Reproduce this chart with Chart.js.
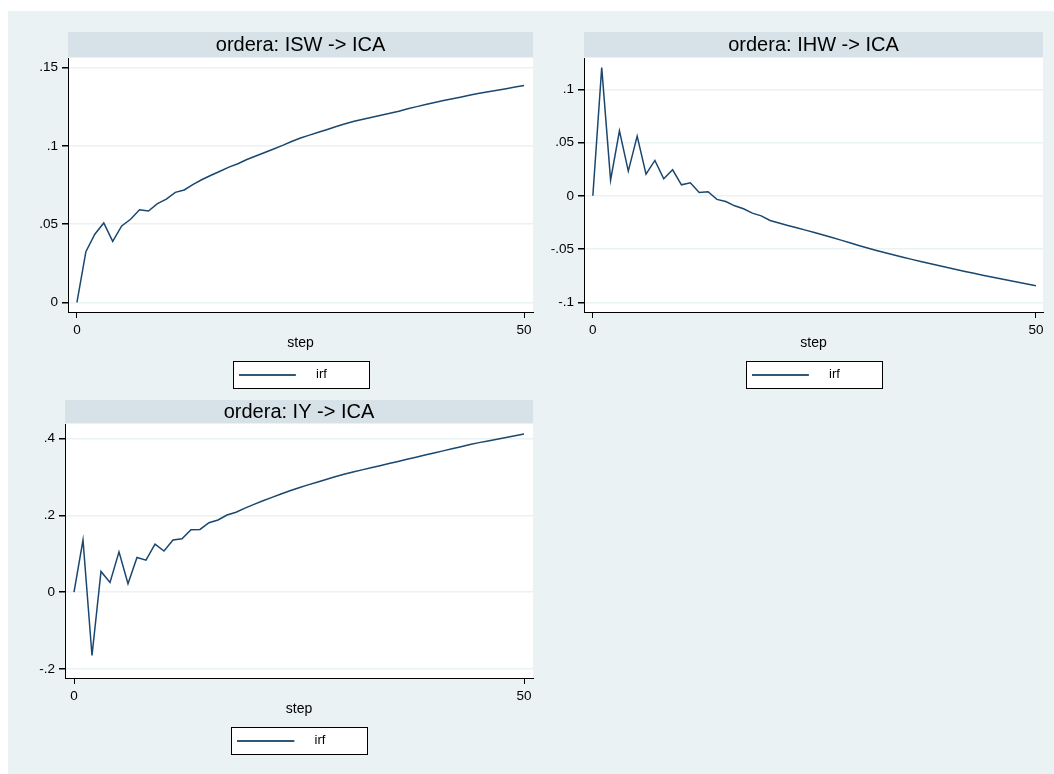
<!DOCTYPE html>
<html><head><meta charset="utf-8">
<script src="https://cdn.jsdelivr.net/npm/chart.js@4.4.0/dist/chart.umd.min.js"></script>
<style>
html,body{margin:0;padding:0;background:#fff;width:1054px;height:774px;overflow:hidden;position:relative}
#bg{position:absolute;left:8px;top:11px;right:0;bottom:0;background:#eaf2f3}
canvas{position:absolute}
</style></head><body>
<div id="bg"></div>
<canvas id="c1" width="537" height="387" style="left:8px;top:11px"></canvas>
<canvas id="c2" width="524" height="387" style="left:530px;top:11px"></canvas>
<canvas id="c3" width="537" height="385" style="left:8px;top:379px"></canvas>
<script>
// ---- data ----
const steps = [0,1,2,3,4,5,6,7,8,9,10,11,12,13,14,15,16,17,18,19,20,21,22,23,24,25,26,27,28,29,30,31,32,33,34,35,36,37,38,39,40,41,42,43,44,45,46,47,48,49,50];

const irfSWtoCA = [0, .0324, .0435, .0507, .0390, .0488, .0531, .0592, .0584, .0631, .0660, .0703, .0718, .0754, .0785, .0812, .0838, .0864, .0886, .0913, .0935, .0958, .0980, .1003, .1028, .1050, .1069, .1087, .1105, .1124, .1142, .1157, .1170, .1183, .1196, .1209, .1222, .1237, .1251, .1265, .1278, .1290, .1302, .1313, .1325, .1336, .1346, .1356, .1366, .1376, .1386];

const irfHWtoCA = [0, .1205, .0147, .0610, .0232, .0560, .0203, .0332, .0160, .0244, .0103, .0122, .0031, .0038, -.0034, -.0053, -.0094, -.0122, -.0163, -.0188, -.0232, -.0255, -.0278, -.0300, -.0322, -.0344, -.0368, -.0392, -.0416, -.0441, -.0466, -.0490, -.0513, -.0535, -.0556, -.0577, -.0597, -.0617, -.0636, -.0655, -.0674, -.0692, -.0710, -.0728, -.0745, -.0762, -.0779, -.0796, -.0812, -.0829, -.0845];

const irfYtoCA = [0, .1357, -.1650, .0540, .0252, .1050, .0217, .0904, .0835, .1250, .1070, .1357, .1390, .1626, .1635, .1810, .1880, .2010, .2080, .2190, .2287, .2380, .2470, .2555, .2640, .2720, .2795, .2865, .2935, .3005, .3070, .3128, .3185, .3240, .3295, .3350, .3405, .3460, .3515, .3570, .3625, .3680, .3735, .3790, .3845, .3895, .3940, .3985, .4030, .4075, .4120];

const panelTitles = ['ordera: ISW -> ICA', 'ordera: IHW -> ICA', 'ordera: IY -> ICA'];
const seriesName = 'irf';
const xTitle = 'step';
const xTickValues = [0, 50];
const xTickLabels = ['0', '50'];
const yTicks1 = [0, 0.05, 0.1, 0.15];
const yLabels1 = ['0', '.05', '.1', '.15'];
const yTicks2 = [-0.1, -0.05, 0, 0.05, 0.1];
const yLabels2 = ['-.1', '-.05', '0', '.05', '.1'];
const yTicks3 = [-0.2, 0, 0.2, 0.4];
const yLabels3 = ['-.2', '0', '.2', '.4'];

// ---- style ----
const fontFamily = '"Liberation Sans", Arial, Helvetica, sans-serif';
const lineColor = '#1a476f';
Chart.defaults.font.family = fontFamily;
Chart.defaults.color = '#000';

// legend key image (line sample)
const mc = document.createElement('canvas').getContext('2d');
mc.font = '13px ' + fontFamily;
const tw = mc.measureText(seriesName).width;
const keyW = 24.5 + tw;
const keyImg = document.createElement('canvas');
keyImg.width = Math.round(116.5 - tw);
keyImg.height = 2;
const kc = keyImg.getContext('2d');
kc.fillStyle = '#2f5878';
kc.fillRect(0, 0, 57, 2);

const decor = {
  id: 'decor',
  beforeDraw(chart) {
    const {ctx, chartArea: a} = chart;
    ctx.save();
    ctx.fillStyle = '#ffffff';
    ctx.fillRect(a.left, a.top, a.width, a.height);
    const t = chart.titleBlock;
    ctx.fillStyle = '#d6e2e7';
    ctx.fillRect(a.left, t.top, a.width, t.height - 1);
    const hb = chart.legend.legendHitBoxes[0];
    if (hb) {
      const cy = hb.top + hb.height / 2;
      const cx = (a.left + a.right) / 2;
      const bx = Math.round(cx - 68) + 0.5, by = Math.round(cy - 13.5) + 0.5;
      ctx.fillStyle = '#ffffff';
      ctx.fillRect(bx, by, 136, 27);
      ctx.strokeStyle = '#000';
      ctx.lineWidth = 1;
      ctx.strokeRect(bx, by, 136, 27);
    }
    ctx.restore();
  }
};

function makePanel(id, title, values, yTicks, yLabels, yMin, yMax, xMin, xMax, yWidth, padRight, titlePad) {
  const pts = steps.map((s, i) => ({x: s, y: values[i]}));
  return new Chart(document.getElementById(id), {
    type: 'line',
    data: {datasets: [{label: seriesName, data: pts, borderColor: lineColor, backgroundColor: lineColor,
      borderWidth: 1.5, pointRadius: 0, tension: 0, fill: false}]},
    options: {
      responsive: false, animation: false, events: [],
      layout: {padding: {top: 21, left: 0, right: padRight, bottom: 7}},
      plugins: {
        title: {display: true, text: title, fullSize: false, color: '#000',
          font: {size: 20, weight: 'normal', lineHeight: 1}, padding: titlePad},
        legend: {display: true, position: 'bottom', fullSize: false,
          labels: {usePointStyle: true, pointStyle: keyImg, pointStyleWidth: keyW,
            font: {size: 13}, color: '#000', padding: 10}},
        tooltip: {enabled: false}
      },
      scales: {
        x: {type: 'linear', min: xMin, max: xMax,
          afterBuildTicks: s => { s.ticks = xTickValues.map(v => ({value: v})); },
          afterFit: s => { s.height = 46; s.paddingLeft = 0; s.paddingRight = 0; },
          ticks: {callback: v => { const i = xTickValues.indexOf(v); return i >= 0 ? xTickLabels[i] : ''; },
            font: {size: 13.5}, color: '#000', padding: 4, maxRotation: 0, autoSkip: false},
          grid: {display: true, drawOnChartArea: false, drawTicks: true, tickLength: 6, tickColor: '#000', color: '#000'},
          border: {display: true, color: '#000', width: 1},
          title: {display: true, text: xTitle, font: {size: 14}, color: '#000', padding: {top: 0, bottom: 6}}
        },
        y: {type: 'linear', min: yMin, max: yMax,
          afterBuildTicks: s => { s.ticks = yTicks.map(v => ({value: v})); },
          afterFit: s => { s.width = yWidth; s.paddingTop = 0; s.paddingBottom = 0; },
          ticks: {callback: v => { const i = yTicks.indexOf(v); return i >= 0 ? yLabels[i] : ''; },
            font: {size: 13.5}, color: '#000', padding: 4, autoSkip: false},
          grid: {display: true, drawOnChartArea: true, drawTicks: true, tickLength: 6, tickColor: '#000', color: '#eaf2f3', lineWidth: 1.5},
          border: {display: true, color: '#000', width: 1}
        }
      }
    },
    plugins: [decor]
  });
}

makePanel('c1', panelTitles[0], irfSWtoCA, yTicks1, yLabels1, -0.0062, 0.1562, -1, 51, 60, 12, {top: 3, bottom: 3});
makePanel('c2', panelTitles[1], irfHWtoCA, yTicks2, yLabels2, -0.1091, 0.1294, -1, 50.8, 54, 11, {top: 3, bottom: 3});
makePanel('c3', panelTitles[2], irfYtoCA, yTicks3, yLabels3, -0.2236, 0.438, -1, 51, 57, 12, {top: 2, bottom: 2});
</script>
</body></html>
